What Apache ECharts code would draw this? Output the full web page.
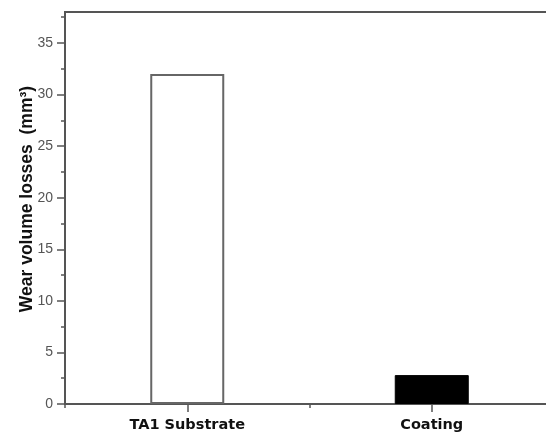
<!DOCTYPE html>
<html>
<head>
<meta charset="utf-8">
<script src="https://cdn.jsdelivr.net/npm/echarts@6/dist/echarts.min.js"></script>
<style>html,body{margin:0;padding:0;background:#fff;overflow:hidden;}#c{width:546px;height:433px;}</style>
</head>
<body>
<div id="c"></div>
<script>
const categories = ['TA1 Substrate', 'Coating'];
const wearValues = [32.0, 2.8];
const majorTicks = [0, 5, 10, 15, 20, 25, 30, 35];
const minorTicks = [2.5, 7.5, 12.5, 17.5, 22.5, 27.5, 32.5, 37.5];
const yMin = 0, yMax = 38;

const chart = echarts.init(document.getElementById('c'));
chart.setOption({
  animation: false,
  grid: { left: 65, width: 489, top: 12, bottom: 29, outerBoundsMode: 'none', containLabel: false, show: true, borderColor: '#555', borderWidth: 2, backgroundColor: 'transparent' },
  xAxis: [{
    type: 'category', data: categories, position: 'bottom',
    axisLine: { show: true, lineStyle: { color: '#555', width: 2 } },
    axisTick: { show: true, alignWithLabel: true, length: 8, lineStyle: { color: '#555', width: 1.5 } },
    axisLabel: { color: '#111', fontSize: 14.5, fontWeight: 'bold', fontFamily: 'DejaVu Sans', margin: 14 },
    splitLine: { show: false }
  }, {
    type: 'category', data: categories, position: 'bottom',
    axisLine: { show: false },
    axisTick: { show: true, alignWithLabel: false, length: 4, lineStyle: { color: '#555', width: 1.5 } },
    axisLabel: { show: false }, splitLine: { show: false }
  }],
  yAxis: [{
    type: 'value', min: yMin, max: yMax,
    name: 'Wear volume losses  (mm³)', nameLocation: 'middle', nameGap: 29, nameRotate: 90, nameMoveOverlap: false,
    nameTextStyle: { color: '#111', fontSize: 17.5, fontWeight: 'bold', fontFamily: 'Liberation Sans', padding: [0, 0, 0, 18] },
    axisLine: { show: true, lineStyle: { color: '#555', width: 2 } },
    axisTick: { show: true, length: 8, customValues: majorTicks, lineStyle: { color: '#555', width: 1.5 } },
    axisLabel: { color: '#555', fontSize: 14, fontFamily: 'Liberation Sans', margin: 12, customValues: majorTicks },
    splitLine: { show: false }
  }, {
    type: 'value', min: yMin, max: yMax, position: 'left',
    axisLine: { show: false },
    axisTick: { show: true, length: 4, customValues: minorTicks, lineStyle: { color: '#555', width: 1.5 } },
    axisLabel: { show: false }, splitLine: { show: false }
  }],
  series: [{
    type: 'bar', xAxisIndex: 0, yAxisIndex: 0, barWidth: 74,
    data: wearValues.map((v, i) => ({
      value: v,
      itemStyle: i === 0
        ? { color: '#fff', borderColor: '#666', borderWidth: 2 }
        : { color: '#000', borderColor: '#000', borderWidth: 1 }
    }))
  }]
});
</script>
</body>
</html>
